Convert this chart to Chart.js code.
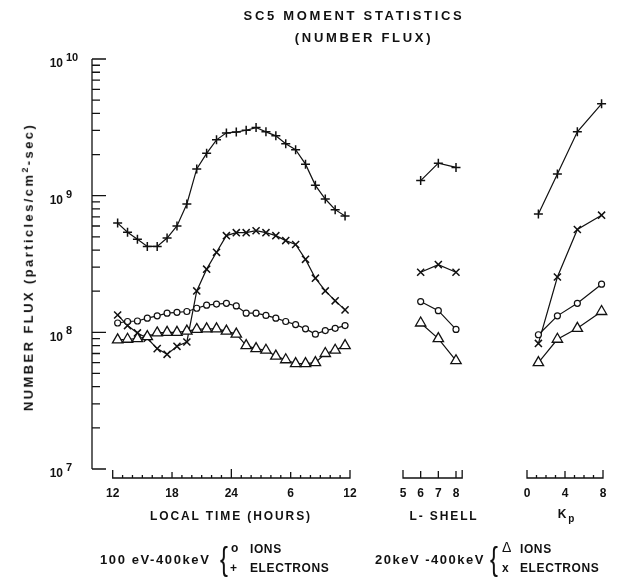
<!DOCTYPE html>
<html>
<head>
<meta charset="utf-8">
<script src="https://cdn.jsdelivr.net/npm/chart.js@4.4.1/dist/chart.umd.min.js"></script>
<style>
  html, body { margin: 0; padding: 0; background: #fff; }
  #wrap { position: relative; width: 620px; height: 578px; font-family: "Liberation Sans", Arial, sans-serif; color: #111; }
  #wrap canvas { position: absolute; left: 0; top: 0; }
  .t { position: absolute; white-space: nowrap; font-weight: bold; line-height: 1; }
  .title { font-size: 13px; letter-spacing: 2.7px; transform: translate(-50%, -50%); }
  .axt { font-size: 12px; letter-spacing: 1.9px; transform: translate(-50%, -50%); }
  .lg { font-size: 12px; letter-spacing: 0.6px; }
  .brace { position: absolute; font-size: 34px; line-height: 1; font-weight: normal; font-family: "Liberation Sans", sans-serif; transform: scaleX(0.7); transform-origin: left top; }
  .ytitle { position: absolute; left: 28px; top: 267px; font-size: 13px; font-weight: bold; letter-spacing: 2.4px; white-space: nowrap; transform: translate(-50%, -50%) rotate(-90deg); }
  sup { font-size: 9px; }
  sub { font-size: 10px; }
</style>
</head>
<body>
<div id="wrap">
  <canvas id="c" width="620" height="578"></canvas>
  <div class="t title" style="left:354px; top:15px">SC5 MOMENT STATISTICS</div>
  <div class="t title" style="left:364px; top:37px">(NUMBER FLUX)</div>
  <div class="ytitle">NUMBER FLUX (particles/cm<sup>2</sup>-sec)</div>
  <div class="t axt" style="left:231px; top:516px">LOCAL TIME (HOURS)</div>
  <div class="t axt" style="left:444px; top:516px">L- SHELL</div>
  <div class="t axt" style="left:567px; top:516px">K<sub>p</sub></div>

  <div class="t lg" style="left:100px; top:553px; font-size:13px; letter-spacing:1.6px">100 eV-400keV</div>
  <div class="brace" style="left:220px; top:541px">{</div>
  <div class="t lg" style="left:231px; top:542px">o</div>
  <div class="t lg" style="left:250px; top:543px">IONS</div>
  <div class="t lg" style="left:230px; top:562px">+</div>
  <div class="t lg" style="left:250px; top:562px">ELECTRONS</div>

  <div class="t lg" style="left:375px; top:553px; font-size:13px; letter-spacing:1.5px">20keV -400keV</div>
  <div class="brace" style="left:490px; top:541px">{</div>
  <div class="t lg" style="left:502px; top:540px; font-size:14px; font-weight:normal">Δ</div>
  <div class="t lg" style="left:502px; top:562px">x</div>
  <div class="t lg" style="left:520px; top:543px">IONS</div>
  <div class="t lg" style="left:520px; top:562px">ELECTRONS</div>
</div>
<script>
// local time panel, hours after 12 LT (bin centres)
const ltHours = [0.5, 1.5, 2.5, 3.5, 4.5, 5.5, 6.5, 7.5, 8.5, 9.5, 10.5, 11.5,
                 12.5, 13.5, 14.5, 15.5, 16.5, 17.5, 18.5, 19.5, 20.5, 21.5, 22.5, 23.5];
const ltIons100 = [1.17e8, 1.20e8, 1.21e8, 1.27e8, 1.32e8, 1.38e8, 1.40e8, 1.42e8, 1.50e8, 1.58e8, 1.61e8, 1.63e8,
                   1.56e8, 1.38e8, 1.38e8, 1.33e8, 1.27e8, 1.20e8, 1.14e8, 1.06e8, 0.97e8, 1.03e8, 1.07e8, 1.12e8];
const ltElec100 = [6.3e8, 5.4e8, 4.8e8, 4.25e8, 4.25e8, 4.9e8, 6.0e8, 8.7e8, 1.57e9, 2.04e9, 2.56e9, 2.88e9,
                   2.92e9, 3.01e9, 3.15e9, 2.93e9, 2.74e9, 2.40e9, 2.17e9, 1.70e9, 1.19e9, 9.45e8, 7.9e8, 7.1e8];
const ltIons20 = [8.8e7, 8.9e7, 9.0e7, 9.3e7, 9.9e7, 1.0e8, 1.0e8, 1.02e8, 1.05e8, 1.06e8, 1.06e8, 1.02e8,
                  9.7e7, 8.0e7, 7.6e7, 7.4e7, 6.7e7, 6.3e7, 5.9e7, 5.9e7, 6.0e7, 7.0e7, 7.4e7, 8.0e7];
const ltElec20 = [1.34e8, 1.12e8, 9.9e7, 9.05e7, 7.6e7, 6.9e7, 7.9e7, 8.5e7, 2.01e8, 2.9e8, 3.85e8, 5.1e8,
                  5.36e8, 5.36e8, 5.54e8, 5.36e8, 5.1e8, 4.69e8, 4.39e8, 3.42e8, 2.49e8, 2.01e8, 1.70e8, 1.46e8];

// L-shell panel
const lShell = [6, 7, 8];
const lIons100 = [1.68e8, 1.44e8, 1.05e8];
const lElec100 = [1.29e9, 1.73e9, 1.61e9];
const lIons20 = [1.17e8, 9.0e7, 6.2e7];
const lElec20 = [2.75e8, 3.13e8, 2.75e8];

// Kp panel
const kp = [1.2, 3.2, 5.3, 7.85];
const kpIons100 = [9.6e7, 1.32e8, 1.63e8, 2.25e8];
const kpElec100 = [7.35e8, 1.44e9, 2.93e9, 4.7e9];
const kpIons20 = [6.0e7, 8.9e7, 1.07e8, 1.42e8];
const kpElec20 = [8.3e7, 2.54e8, 5.66e8, 7.2e8];

// tick labels
const ltTickVals = [0, 6, 12, 18, 24];
const ltTickLabels = ['12', '18', '24', '6', '12'];
const lTickVals = [5, 6, 7, 8];
const lTickLabels = ['5', '6', '7', '8'];
const kpTickVals = [0, 4, 8];
const kpTickLabels = ['0', '4', '8'];
const yExponents = [7, 8, 9, 10];

const INK = '#111';
const AREA_LEFT = 92, AREA_RIGHT = 612, AREA_TOP = 59, AREA_BOTTOM = 469;
const BASE_Y = 478;

// min/max so that values v0..v1 land between pixels p0..p1 of the shared chart area
function panelRange(v0, v1, p0, p1) {
    const ppu = (p1 - p0) / (v1 - v0);
    return { min: v0 - (p0 - AREA_LEFT) / ppu, max: v1 + (AREA_RIGHT - p1) / ppu };
}

function pts(xs, ys) {
    return xs.map(function(x, i) { return { x: x, y: ys[i] }; });
}

const styles = {
    ions100: { pointStyle: 'circle', pointRadius: 3, pointBackgroundColor: '#fff', pointBorderWidth: 1.2 },
    elec100: { pointStyle: 'cross', pointRadius: 4.5, pointBorderWidth: 1.5 },
    ions20: { pointStyle: 'triangle', pointRadius: 6, pointBackgroundColor: '#fff', pointBorderWidth: 1.3 },
    elec20: { pointStyle: 'crossRot', pointRadius: 5, pointBorderWidth: 1.5 }
};

function series(axis, xs, ys, kind) {
    return Object.assign({
        data: pts(xs, ys),
        xAxisID: axis,
        yAxisID: 'y',
        borderColor: INK,
        pointBorderColor: INK,
        borderWidth: 1.2,
        tension: 0,
        fill: false,
        clip: false
    }, styles[kind]);
}

const axisDecor = {
    id: 'axisDecor',
    afterDraw(chart) {
        const ctx = chart.ctx;
        const y = chart.scales.y;
        const left = chart.chartArea.left;
        ctx.save();
        ctx.strokeStyle = INK;
        ctx.fillStyle = INK;
        ctx.lineWidth = 1.3;

        // y axis with inward ticks
        ctx.beginPath();
        ctx.moveTo(left, y.getPixelForValue(1e10));
        ctx.lineTo(left, y.getPixelForValue(1e7));
        for (let e = 7; e <= 10; e++) {
            for (let m = 1; m <= 9; m++) {
                const v = m * Math.pow(10, e);
                if (v > 1e10) break;
                const py = y.getPixelForValue(v);
                ctx.moveTo(left, py);
                ctx.lineTo(left + (m === 1 ? 14 : 8), py);
            }
        }
        ctx.stroke();

        ctx.textBaseline = 'middle';
        yExponents.forEach(function(e) {
            const py = y.getPixelForValue(Math.pow(10, e));
            ctx.font = 'bold 12px "Liberation Sans", Arial, sans-serif';
            ctx.textAlign = 'right';
            ctx.fillText('10', 63, py + 5);
            ctx.font = 'bold 11px "Liberation Sans", Arial, sans-serif';
            ctx.textAlign = 'left';
            ctx.fillText(String(e), 66, py - 1);
        });

        // bracket style x axes below the plot
        const brackets = [
            { id: 'xLT', from: 0, to: 24, step: 1, vals: ltTickVals, labels: ltTickLabels,
              len: function(v) { return (v === 0 || v === 24) ? 8 : v === 12 ? 9 : v % 6 === 0 ? 6 : 3; } },
            { id: 'xL', from: 5, to: 8.35, step: 1, vals: lTickVals, labels: lTickLabels,
              len: function(v) { return v === 5 ? 8 : 7; } },
            { id: 'xKp', from: 0, to: 8, step: 1, vals: kpTickVals, labels: kpTickLabels,
              len: function(v) { return (v === 0 || v === 8) ? 8 : v === 4 ? 7 : 3; } }
        ];
        ctx.font = 'bold 12px "Liberation Sans", Arial, sans-serif';
        ctx.textAlign = 'center';
        brackets.forEach(function(b) {
            const sc = chart.scales[b.id];
            const x0 = sc.getPixelForValue(b.from), x1 = sc.getPixelForValue(b.to);
            ctx.beginPath();
            ctx.moveTo(x0, BASE_Y - 8);
            ctx.lineTo(x0, BASE_Y);
            ctx.lineTo(x1, BASE_Y);
            ctx.lineTo(x1, BASE_Y - 8);
            for (let v = b.from; v <= b.to + 1e-6; v += b.step) {
                const px = sc.getPixelForValue(v);
                ctx.moveTo(px, BASE_Y);
                ctx.lineTo(px, BASE_Y - b.len(v));
            }
            ctx.stroke();
            b.vals.forEach(function(v, i) {
                ctx.fillText(b.labels[i], sc.getPixelForValue(v), BASE_Y + 16);
            });
        });
        ctx.restore();
    }
};

const ctx = document.getElementById('c').getContext('2d');
new Chart(ctx, {
    type: 'line',
    data: {
        datasets: [
            series('xLT', ltHours, ltIons100, 'ions100'),
            series('xLT', ltHours, ltElec100, 'elec100'),
            series('xLT', ltHours, ltIons20, 'ions20'),
            series('xLT', ltHours, ltElec20, 'elec20'),
            series('xL', lShell, lIons100, 'ions100'),
            series('xL', lShell, lElec100, 'elec100'),
            series('xL', lShell, lIons20, 'ions20'),
            series('xL', lShell, lElec20, 'elec20'),
            series('xKp', kp, kpIons100, 'ions100'),
            series('xKp', kp, kpElec100, 'elec100'),
            series('xKp', kp, kpIons20, 'ions20'),
            series('xKp', kp, kpElec20, 'elec20')
        ]
    },
    options: {
        responsive: false,
        animation: false,
        devicePixelRatio: 1,
        layout: { padding: { left: AREA_LEFT, right: 620 - AREA_RIGHT, top: AREA_TOP, bottom: 578 - AREA_BOTTOM } },
        plugins: { legend: { display: false }, tooltip: { enabled: false } },
        scales: {
            y: { type: 'logarithmic', min: 1e7, max: 1e10, display: false },
            xLT: Object.assign({ type: 'linear', axis: 'x', display: false }, panelRange(0, 24, 112.7, 350)),
            xL: Object.assign({ type: 'linear', axis: 'x', display: false }, panelRange(5, 8, 403, 456)),
            xKp: Object.assign({ type: 'linear', axis: 'x', display: false }, panelRange(0, 8, 527, 603))
        }
    },
    plugins: [axisDecor]
});
</script>
</body>
</html>
